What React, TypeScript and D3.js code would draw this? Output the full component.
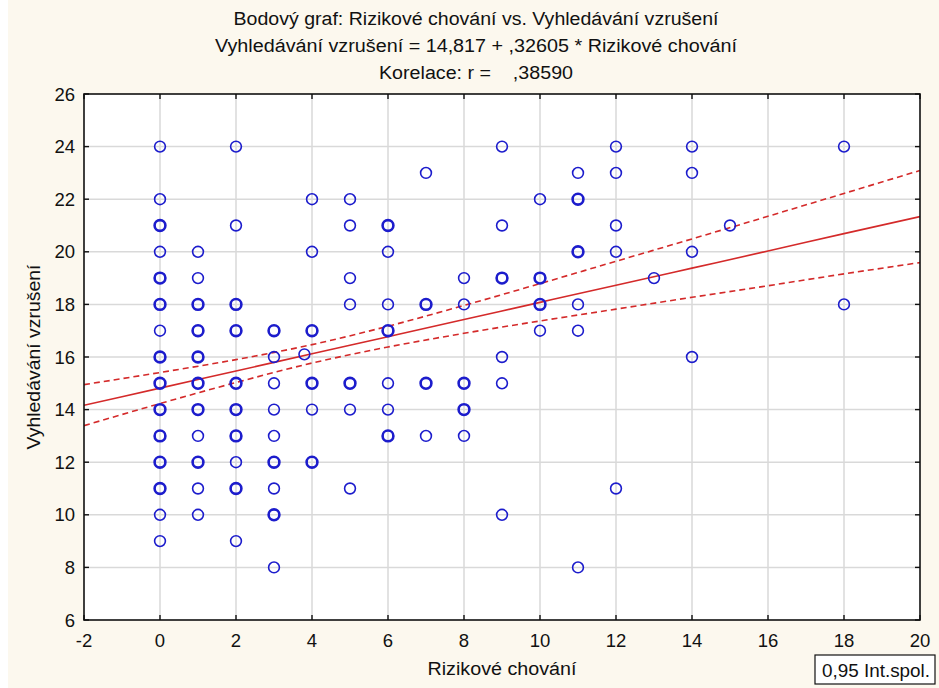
import * as d3 from 'd3';

// body points: [riskove chovani, vyhledavani vzruseni, how many fall on the same spot]
const riskX0 = [24, 22, 21, 20, 19, 18, 17, 16, 15, 14, 13, 12, 11, 10, 9];
const riskX0n = [1, 1, 2, 1, 2, 2, 1, 2, 2, 2, 2, 2, 2, 1, 1];
const points: [number, number, number][] = [
  ...riskX0.map((y, i) => [0, y, riskX0n[i]] as [number, number, number]),
  [1, 20, 1], [1, 19, 1], [1, 18, 2], [1, 17, 2], [1, 16, 2], [1, 15, 2], [1, 14, 2], [1, 13, 1], [1, 12, 2], [1, 11, 1], [1, 10, 1],
  [2, 24, 1], [2, 21, 1], [2, 18, 2], [2, 17, 2], [2, 15, 2], [2, 14, 2], [2, 13, 2], [2, 12, 1], [2, 11, 2], [2, 9, 1],
  [3, 17, 2], [3, 16, 1], [3, 15, 1], [3, 14, 1], [3, 13, 1], [3, 12, 2], [3, 11, 1], [3, 10, 2], [3, 8, 1],
  [3.8, 16.1, 1],
  [4, 22, 1], [4, 20, 1], [4, 17, 2], [4, 15, 2], [4, 14, 1], [4, 12, 2],
  [5, 22, 1], [5, 21, 1], [5, 19, 1], [5, 18, 1], [5, 15, 2], [5, 14, 1], [5, 11, 1],
  [6, 21, 2], [6, 20, 1], [6, 18, 1], [6, 17, 2], [6, 15, 1], [6, 14, 1], [6, 13, 2],
  [7, 23, 1], [7, 18, 2], [7, 15, 2], [7, 13, 1],
  [8, 19, 1], [8, 18, 1], [8, 15, 2], [8, 14, 2], [8, 13, 1],
  [9, 24, 1], [9, 21, 1], [9, 19, 2], [9, 16, 1], [9, 15, 1], [9, 10, 1],
  [10, 22, 1], [10, 19, 2], [10, 18, 2], [10, 17, 1],
  [11, 23, 1], [11, 22, 2], [11, 20, 2], [11, 18, 1], [11, 17, 1], [11, 8, 1],
  [12, 24, 1], [12, 23, 1], [12, 21, 1], [12, 20, 1], [12, 11, 1],
  [13, 19, 1],
  [14, 24, 1], [14, 23, 1], [14, 20, 1], [14, 16, 1],
  [15, 21, 1],
  [18, 24, 1], [18, 18, 1],
];

// regression fit and 0,95 band, read along the x grid
const bandX = [-2, 0, 2, 4, 6, 8, 10, 12, 14, 16, 18, 20];
const fitY = [14.165, 14.817, 15.469, 16.121, 16.773, 17.425, 18.078, 18.73, 19.38, 20.03, 20.69, 21.34];
const upperY = [14.95, 15.41, 15.9, 16.47, 17.17, 17.96, 18.79, 19.64, 20.49, 21.35, 22.22, 23.09];
const lowerY = [13.39, 14.23, 15.03, 15.77, 16.38, 16.9, 17.37, 17.82, 18.27, 18.71, 19.16, 19.59];

const xTicks = [-2, 0, 2, 4, 6, 8, 10, 12, 14, 16, 18, 20];
const yTicks = [6, 8, 10, 12, 14, 16, 18, 20, 22, 24, 26];

const titleLines = [
  'Bodový graf: Rizikové chování vs. Vyhledávání vzrušení',
  'Vyhledávání vzrušení = 14,817 + ,32605 * Rizikové chování',
  'Korelace: r =    ,38590',
];
const titleWidths = [485, 522, 194];

export default function App() {
  const W = 939, H = 688;
  const left = 84, right = 920, top = 94, bottom = 620;
  const x = d3.scaleLinear().domain([-2, 20]).range([left, right]);
  const y = d3.scaleLinear().domain([6, 26]).range([bottom, top]);
  const font = '"Liberation Sans", Arial, sans-serif';
  const red = '#d42a2a';
  const blue = '#1c1ccc';

  const line = d3.line<[number, number]>().x(d => x(d[0])).y(d => y(d[1])).curve(d3.curveMonotoneX);
  const pairs = (ys: number[]) => bandX.map((v, i) => [v, ys[i]] as [number, number]);

  return (
    <svg width={W} height={H} style={{ position: 'absolute', left: 0, top: 0 }} fontFamily={font}>
      <rect x={0} y={0} width={W} height={H} fill="#ffffff" />
      <rect x={8} y={0} width={W - 8} height={H} fill="#fcf8ee" />
      {titleLines.map((t, i) => (
        <text key={i} x={476} y={25 + i * 27} textAnchor="middle" fontSize={18} fill="#111"
          textLength={titleWidths[i]} lengthAdjust="spacingAndGlyphs" style={{ whiteSpace: 'pre' }}>{t}</text>
      ))}
      <rect x={left} y={top} width={right - left} height={bottom - top} fill="#ffffff" />
      <clipPath id="plot">
        <rect x={left} y={top} width={right - left} height={bottom - top} />
      </clipPath>
      {xTicks.slice(1, -1).map(t => (
        <line key={'gx' + t} x1={x(t)} x2={x(t)} y1={top} y2={bottom} stroke="#d9d9d9" strokeWidth={1.5} />
      ))}
      {yTicks.slice(1, -1).map(t => (
        <line key={'gy' + t} x1={left} x2={right} y1={y(t)} y2={y(t)} stroke="#d9d9d9" strokeWidth={1.5} />
      ))}
      <g clipPath="url(#plot)" fill="none" stroke={red}>
        <path d={line(pairs(fitY)) || ''} strokeWidth={1.6} />
        <path d={line(pairs(upperY)) || ''} strokeWidth={1.6} strokeDasharray="6,4" />
        <path d={line(pairs(lowerY)) || ''} strokeWidth={1.6} strokeDasharray="6,4" />
      </g>
      <g fill="none" stroke={blue}>
        {points.map((p, i) => (
          <circle key={i} cx={x(p[0])} cy={y(p[1])} r={5.4} strokeWidth={p[2] > 1 ? 2.6 : 1.6} />
        ))}
      </g>
      <rect x={left} y={top} width={right - left} height={bottom - top} fill="none" stroke="#111" strokeWidth={1.6} />
      {xTicks.map(t => (
        <g key={'tx' + t} stroke="#111" strokeWidth={1.4}>
          <line x1={x(t)} x2={x(t)} y1={bottom} y2={bottom - 5} />
          <line x1={x(t)} x2={x(t)} y1={top} y2={top + 5} />
        </g>
      ))}
      {yTicks.map(t => (
        <g key={'ty' + t} stroke="#111" strokeWidth={1.4}>
          <line x1={left} x2={left + 5} y1={y(t)} y2={y(t)} />
          <line x1={right} x2={right - 5} y1={y(t)} y2={y(t)} />
        </g>
      ))}
      {xTicks.map(t => (
        <text key={'lx' + t} x={x(t)} y={bottom + 27} textAnchor="middle" fontSize={18.5} fill="#111">{t}</text>
      ))}
      {yTicks.map(t => (
        <text key={'ly' + t} x={left - 9} y={y(t) + 6.5} textAnchor="end" fontSize={18.5} fill="#111">{t}</text>
      ))}
      <text x={502} y={675} textAnchor="middle" fontSize={18} fill="#111" textLength={149} lengthAdjust="spacingAndGlyphs">Rizikové chování</text>
      <text transform={`translate(40,${357}) rotate(-90)`} textAnchor="middle" fontSize={18} fill="#111"
        textLength={185} lengthAdjust="spacingAndGlyphs">Vyhledávání vzrušení</text>
      <rect x={815} y={655} width={120} height={29} fill="#ffffff" stroke="#111" strokeWidth={1.2} />
      <text x={876} y={677} textAnchor="middle" fontSize={18} fill="#111" textLength={108} lengthAdjust="spacingAndGlyphs">0,95 Int.spol.</text>
    </svg>
  );
}
